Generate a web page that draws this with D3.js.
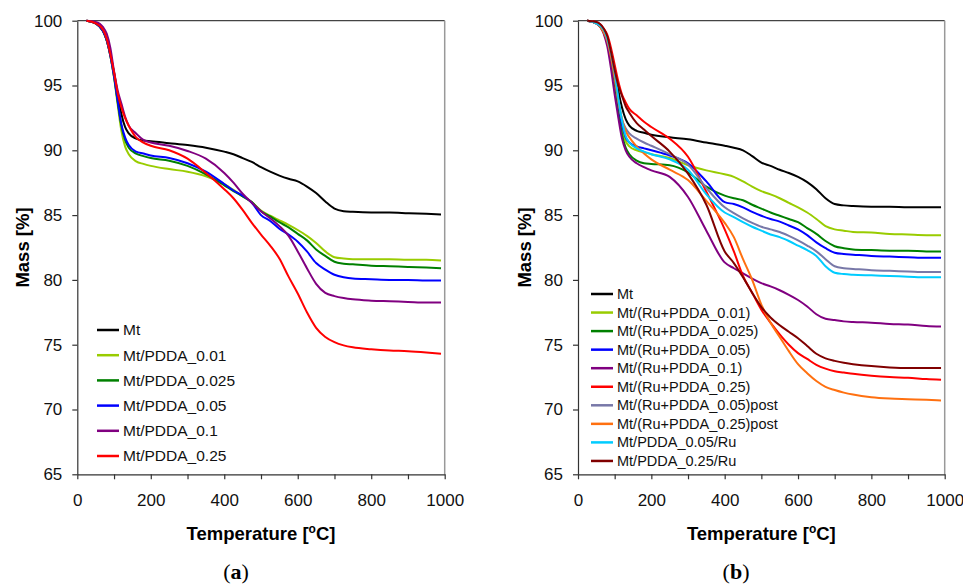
<!DOCTYPE html>
<html><head><meta charset="utf-8">
<script src="https://cdn.jsdelivr.net/npm/d3@7"></script>
<style>body{margin:0;background:#fff}svg{display:block}text{font-family:"Liberation Sans",Arial,sans-serif}</style>
</head><body><svg id="c" width="963" height="585"></svg>
<script>
const temps = [25,50,70,80,90,100,110,120,130,140,160,180,200,250,300,350,400,425,450,475,500,525,550,575,600,625,650,675,700,725,750,800,850,900,950,990];

// Panel (a)
const namesA = ["Mt","Mt/PDDA_0.01","Mt/PDDA_0.025","Mt/PDDA_0.05","Mt/PDDA_0.1","Mt/PDDA_0.25"];
const colorsA = ["#000000","#99cc00","#008000","#0000ff","#800080","#ff0000"];
const a_Mt   = [100,99.8,99.2,98.5,97.4,96.0,94.3,92.8,91.8,91.3,90.9,90.75,90.7,90.55,90.4,90.2,89.9,89.7,89.4,89.1,88.7,88.35,88.05,87.8,87.6,87.2,86.7,86.05,85.5,85.3,85.25,85.2,85.2,85.15,85.1,85.05];
const a_001  = [100,99.8,99.2,98.5,97.3,95.6,93.5,91.5,90.3,89.7,89.15,88.95,88.8,88.55,88.35,88.0,87.4,86.95,86.45,86.0,85.35,84.95,84.6,84.25,83.85,83.4,82.85,82.2,81.75,81.65,81.6,81.6,81.6,81.55,81.55,81.5];
const a_0025 = [100,99.8,99.2,98.5,97.3,95.7,93.7,91.9,90.8,90.2,89.75,89.55,89.4,89.2,88.8,88.15,87.3,86.85,86.45,86.0,85.3,84.9,84.45,84.05,83.55,83.05,82.35,81.85,81.4,81.25,81.2,81.1,81.05,81.0,80.95,80.9];
const a_005  = [100,99.8,99.2,98.5,97.3,95.7,93.8,92.0,91.0,90.4,89.9,89.75,89.6,89.4,89.0,88.35,87.4,86.9,86.5,85.95,85.0,84.55,83.95,83.5,82.95,82.2,81.3,80.8,80.4,80.2,80.1,80.05,80.0,80.0,79.95,79.95];
const a_01   = [100,99.9,99.5,99.0,97.9,96.1,94.6,93.6,92.6,91.9,91.3,90.8,90.6,90.35,89.95,89.35,88.25,87.5,86.65,85.95,85.3,84.75,84.15,83.4,82.2,80.9,79.7,79.0,78.75,78.6,78.5,78.4,78.35,78.3,78.25,78.25];
const a_025  = [100,99.8,99.3,98.6,97.4,96.0,94.4,93.3,92.5,91.9,91.0,90.6,90.35,90.0,89.35,88.25,87.0,86.3,85.4,84.4,83.5,82.65,81.65,80.25,78.95,77.5,76.3,75.6,75.2,74.95,74.8,74.65,74.55,74.5,74.4,74.3];
const seriesA = [a_Mt,a_001,a_0025,a_005,a_01,a_025];

// Panel (b)
const namesB = ["Mt","Mt/(Ru+PDDA_0.01)","Mt/(Ru+PDDA_0.025)","Mt/(Ru+PDDA_0.05)","Mt/(Ru+PDDA_0.1)","Mt/(Ru+PDDA_0.25)","Mt/(Ru+PDDA_0.05)post","Mt/(Ru+PDDA_0.25)post","Mt/PDDA_0.05/Ru","Mt/PDDA_0.25/Ru"];
const colorsB = ["#000000","#99cc00","#008000","#0000ff","#800080","#ff0000","#7878a8","#ff7010","#00ccff","#800000"];
const b_Mt    = [100,99.8,99.3,98.7,97.6,96.3,94.6,93.3,92.4,91.9,91.5,91.35,91.2,91.0,90.85,90.6,90.35,90.2,90.0,89.55,89.05,88.8,88.5,88.25,87.95,87.55,87.0,86.3,85.85,85.75,85.7,85.65,85.65,85.6,85.6,85.6];
const b_001   = [100,99.8,99.1,98.4,97.1,95.4,93.3,91.6,90.7,90.3,90.0,89.85,89.7,89.4,88.85,88.45,88.15,87.95,87.6,87.2,86.85,86.6,86.3,85.95,85.6,85.2,84.7,84.15,83.9,83.8,83.7,83.65,83.55,83.5,83.45,83.45];
const b_0025  = [100,99.8,99.1,98.3,97.0,95.2,93.0,91.2,90.2,89.7,89.2,89.0,88.95,88.85,88.3,87.2,86.5,86.3,86.15,85.8,85.5,85.2,84.95,84.7,84.45,84.0,83.55,83.0,82.6,82.45,82.35,82.3,82.25,82.25,82.2,82.2];
const b_005   = [100,99.8,99.2,98.5,97.3,95.7,93.7,92.0,91.0,90.6,90.3,90.15,90.0,89.6,89.0,87.6,86.0,85.85,85.6,85.25,84.95,84.7,84.5,84.2,83.9,83.45,82.9,82.45,82.1,82.0,81.95,81.85,81.8,81.75,81.7,81.7];
const b_01    = [100,99.8,99.0,98.0,96.3,94.3,92.5,90.9,90.0,89.5,89.0,88.7,88.45,87.95,86.4,83.8,81.35,80.9,80.5,80.1,79.75,79.5,79.2,78.85,78.45,77.95,77.35,77.0,76.9,76.8,76.75,76.7,76.6,76.55,76.45,76.4];
const b_025   = [100,99.9,99.4,98.9,97.9,96.6,95.3,94.3,93.7,93.2,92.7,92.2,91.8,90.9,89.5,86.8,83.9,82.2,80.3,79.0,77.7,76.7,75.8,75.0,74.35,73.9,73.45,73.15,72.95,72.85,72.75,72.6,72.5,72.45,72.35,72.3];
const b_005p  = [100,99.8,99.2,98.5,97.3,95.7,93.8,92.4,91.7,91.3,90.9,90.6,90.35,89.7,88.9,87.1,85.6,85.15,84.75,84.4,84.1,83.9,83.7,83.4,83.05,82.65,82.2,81.6,81.05,80.9,80.85,80.75,80.7,80.65,80.6,80.6];
const b_025p  = [100,99.8,99.1,98.4,97.2,95.6,93.8,92.4,91.5,91.0,90.3,89.75,89.3,88.5,87.7,86.1,84.4,83.3,81.6,80.0,78.1,76.7,75.6,74.5,73.5,72.8,72.2,71.75,71.5,71.3,71.15,70.95,70.85,70.8,70.75,70.7];
const b_005Ru = [100,99.8,99.3,98.6,97.5,96.0,94.0,92.3,91.1,90.6,90.15,89.9,89.7,89.3,88.5,86.6,85.2,84.85,84.45,84.1,83.8,83.5,83.3,83.0,82.65,82.3,81.85,81.05,80.55,80.45,80.4,80.35,80.3,80.25,80.2,80.2];
const b_025Ru = [100,99.9,99.4,98.8,97.6,96.2,95.0,94.2,93.4,92.9,92.1,91.6,91.1,89.9,88.2,85.8,82.2,81.3,80.2,79.0,77.9,77.1,76.5,76.0,75.5,74.9,74.3,73.95,73.75,73.6,73.5,73.35,73.25,73.2,73.2,73.2];
const seriesB = [b_Mt,b_001,b_0025,b_005,b_01,b_025,b_005p,b_025p,b_005Ru,b_025Ru];

const yTicks = [65,70,75,80,85,90,95,100];
const xTicks = [0,100,200,300,400,500,600,700,800,900,1000];
const xLabels = [0,200,400,600,800,1000];

const svg = d3.select("#c");
svg.append("rect").attr("width",963).attr("height",585).attr("fill","#fff");

function panel(cfg){
  const x = d3.scaleLinear().domain([0,1000]).range([cfg.x0,cfg.x1]);
  const y = d3.scaleLinear().domain([65,100]).range([474.3,20.7]);
  const g = svg.append("g");
  g.append("line").attr("x1",x(0)).attr("x2",x(1000)).attr("y1",y(100)).attr("y2",y(100)).attr("stroke","#444").attr("stroke-width",1.2);
  g.append("line").attr("x1",x(1000)).attr("x2",x(1000)).attr("y1",y(100)).attr("y2",y(65)).attr("stroke","#999").attr("stroke-width",1.5);
  const ya = g.append("g").attr("transform",`translate(${x(0)},0)`)
    .call(d3.axisLeft(y).tickValues(yTicks).tickSize(5).tickSizeOuter(0).tickPadding(10));
  const xa = g.append("g").attr("transform",`translate(0,${y(65)})`)
    .call(d3.axisBottom(x).tickValues(xTicks).tickSize(5).tickSizeOuter(0).tickPadding(15)
      .tickFormat(d=>xLabels.includes(d)?String(d):""));
  [ya,xa].forEach(a=>{
    a.selectAll("path,line").attr("stroke","#333").attr("stroke-width",1.2);
    a.selectAll("text").attr("font-size",17).attr("fill","#111").attr("font-family","Liberation Sans, Arial, sans-serif");
  });
  const line = d3.line().x((d,i)=>x(temps[i])).y(d=>y(d)).curve(d3.curveMonotoneX);
  cfg.series.forEach((s,i)=>{
    g.append("path").datum(s).attr("d",line).attr("fill","none")
      .attr("stroke",cfg.colors[i]).attr("stroke-width",2).attr("stroke-linejoin","round");
  });
  g.append("text").attr("transform",`translate(${cfg.ytx},${(y(65)+y(100))/2}) rotate(-90)`)
    .attr("text-anchor","middle").attr("dy","0.35em").attr("font-size",18.5).attr("font-weight","bold").text("Mass [%]");
  const t = g.append("text").attr("x",(x(0)+x(1000))/2).attr("y",540).attr("text-anchor","middle")
    .attr("font-size",18.5).attr("font-weight","bold");
  t.append("tspan").text("Temperature [");
  t.append("tspan").attr("font-size",12).attr("dy",-7).text("o");
  t.append("tspan").attr("dy",7).text("C]");
  cfg.names.forEach((n,i)=>{
    const yy = cfg.ly0 + i*cfg.ldy;
    g.append("line").attr("x1",cfg.lx).attr("x2",cfg.lx+22).attr("y1",yy).attr("y2",yy)
      .attr("stroke",cfg.colors[i]).attr("stroke-width",2.5);
    g.append("text").attr("x",cfg.lx+26).attr("y",yy).attr("dy","0.35em")
      .attr("font-size",cfg.lfs).attr("fill","#111").text(n);
  });
  const c = g.append("text").attr("x",cfg.cx).attr("y",579).attr("text-anchor","middle")
    .attr("font-size",22).style("font-family","'Liberation Serif', serif");
  c.append("tspan").text("(");
  c.append("tspan").attr("font-weight","bold").text(cfg.cap);
  c.append("tspan").text(")");
}

panel({x0:77.3,x1:444.7,series:seriesA,colors:colorsA,names:namesA,ytx:23,lx:97,ly0:330,ldy:25.2,lfs:15.5,cx:236,cap:"a"});
panel({x0:578,x1:944.7,series:seriesB,colors:colorsB,names:namesB,ytx:525,lx:591,ly0:294,ldy:18.55,lfs:14.5,cx:736,cap:"b"});
</script></body></html>
